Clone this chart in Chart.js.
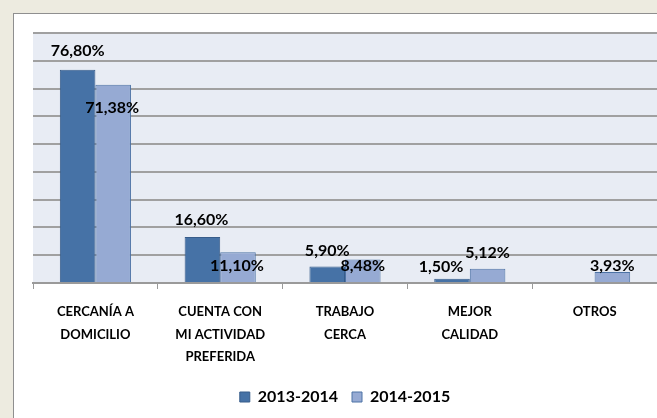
<!DOCTYPE html>
<html>
<head>
<meta charset="utf-8">
<script src="https://cdn.jsdelivr.net/npm/chart.js@4"></script>
<style>
  html, body { margin: 0; padding: 0; background: #EDEBE0; overflow: hidden; }
  #caja {
    position: absolute; left: 13px; top: 13px; width: 700px; height: 450px;
    background: #ffffff; border: 1px solid #8f8f8f;
  }
  #contenedor { position: absolute; left: 0; top: 0; width: 657px; height: 418px; }
</style>
</head>
<body>
<div id="caja"></div>
<div id="contenedor"><canvas id="graficoDeBarras"></canvas></div>
<script>
const categorias = [
    ['CERCANÍA A', 'DOMICILIO'],
    ['CUENTA CON', 'MI ACTIVIDAD', 'PREFERIDA'],
    ['TRABAJO', 'CERCA'],
    ['MEJOR', 'CALIDAD'],
    ['OTROS']
];
const serie2013 = [76.80, 16.60, 5.90, 1.50, null];
const serie2014 = [71.38, 11.10, 8.48, 5.12, 3.93];
const etiquetasSeries = ['2013-2014', '2014-2015'];

// desplazamiento de cada etiqueta respecto al extremo de la barra [dx, dy]
const posEtiquetas = [
    [[0, -19], [-1, -17], [0, -16], [-11, -12], [0, 0]],
    [[-1, 23], [-1, 14], [0, 6], [0, -16], [0, -6]]
];

const fuente = 'Lato, "Open Sans", sans-serif';

function formato(v) {
    return v.toFixed(2).replace('.', ',') + '%';
}

const fondoArea = {
    id: 'fondoArea',
    beforeDraw(chart) {
        const a = chart.chartArea;
        const ctx = chart.ctx;
        ctx.save();
        ctx.fillStyle = '#E8ECF4';
        ctx.fillRect(a.left, a.top, a.right - a.left, a.bottom - a.top);
        ctx.restore();
    }
};

const etiquetasDatos = {
    id: 'etiquetasDatos',
    afterDatasetsDraw(chart) {
        const ctx = chart.ctx;
        ctx.save();
        ctx.font = 'bold 16px ' + fuente;
        ctx.fillStyle = '#000000';
        ctx.textAlign = 'center';
        ctx.textBaseline = 'middle';
        chart.data.datasets.forEach((dataset, i) => {
            const meta = chart.getDatasetMeta(i);
            meta.data.forEach((barra, j) => {
                const v = dataset.data[j];
                if (v === null) return;
                const d = posEtiquetas[i][j];
                ctx.fillText(formato(v), barra.x + d[0], barra.y + d[1]);
            });
        });
        ctx.restore();
    }
};

const data = {
    labels: categorias,
    datasets: [{
        label: etiquetasSeries[0],
        data: serie2013,
        backgroundColor: '#4672A6',
        borderColor: '#375C8A',
        borderWidth: 1
    }, {
        label: etiquetasSeries[1],
        data: serie2014,
        backgroundColor: '#96AAD3',
        borderColor: '#4D73A5',
        borderWidth: 1
    }]
};

const config = {
    type: 'bar',
    data: data,
    options: {
        responsive: false,
        animation: false,
        categoryPercentage: 0.57,
        barPercentage: 1.0,
        layout: { padding: { left: 33, top: 33, right: 0, bottom: 3 } },
        plugins: {
            tooltip: { enabled: false },
            legend: {
                position: 'bottom',
                labels: {
                    color: '#000000',
                    font: { family: fuente, size: 16, weight: 'bold' },
                    boxWidth: 10,
                    boxHeight: 10,
                    padding: 14
                }
            }
        },
        scales: {
            x: {
                grid: {
                    drawOnChartArea: false,
                    drawTicks: true,
                    tickLength: 6,
                    color: '#9a9a9a'
                },
                border: { display: true, color: '#9a9a9a', width: 2 },
                ticks: {
                    color: '#000000',
                    font: { family: fuente, size: 13, weight: 'bold', lineHeight: 1.72 },
                    padding: 12,
                    maxRotation: 0,
                    autoSkip: false
                },
                afterFit(scale) { scale.height = 92; }
            },
            y: {
                min: 0,
                max: 90,
                ticks: { display: false, stepSize: 10 },
                grid: { color: '#a0a0a0', lineWidth: 2, drawTicks: false },
                border: { display: false }
            }
        }
    },
    plugins: [fondoArea, etiquetasDatos]
};

const lienzo = document.getElementById('graficoDeBarras');
lienzo.width = 657;
lienzo.height = 418;
const chart_barra = new Chart(lienzo, config);
</script>
</body>
</html>
